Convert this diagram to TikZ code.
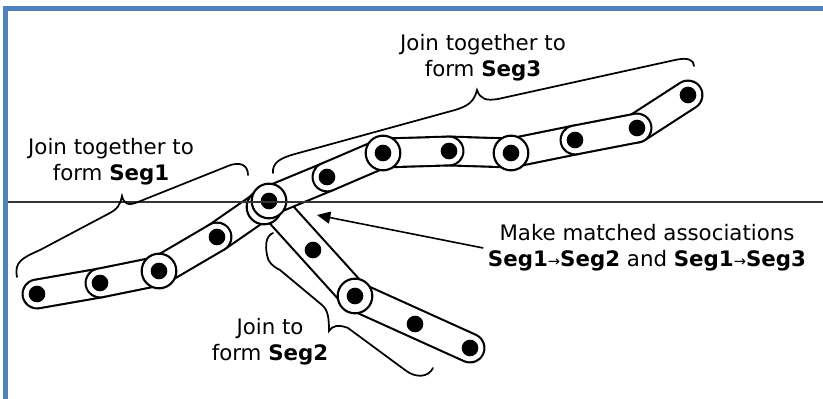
\documentclass[tikz,border=0pt]{standalone}
\usepackage{fontspec}
\setmainfont{DejaVu Sans}
\usetikzlibrary{arrows.meta}
\definecolor{framecol}{HTML}{4F81BD}
\newcommand{\segarrow}{{\fontsize{11}{13}\selectfont →}}

\begin{document}
\begin{tikzpicture}[x=0.75pt, y=-0.75pt,
    plate/.style={draw=black, line width=1.6pt, double=white, double distance=20pt, line cap=round},
    ring/.style={circle, draw, fill=white, line width=1.6pt, minimum size=26pt, inner sep=0pt},
    bolt/.style={circle, fill=black, minimum size=12.5pt, inner sep=0pt},
    brace/.style={line width=1.3pt, line cap=round},
    note/.style={align=center, font=\fontsize{16}{19.5}\selectfont},
    arrow/.style={-{Triangle[length=10pt, width=9pt]}, line width=1.2pt}
]
    \useasboundingbox (0,0) rectangle (823,399);
    \fill[framecol] (3,6) rectangle (823,11);
    \fill[framecol] (3,6) rectangle (8,399);

    % pivots of the three segments
    \coordinate (a1) at (37,294);  \coordinate (a2) at (100,283); \coordinate (a3) at (159,271);
    \coordinate (a4) at (217,237); \coordinate (a5) at (269,201);
    \coordinate (b1) at (327,177); \coordinate (b2) at (383,153); \coordinate (b3) at (449,151);
    \coordinate (b4) at (511,153); \coordinate (b5) at (575,140); \coordinate (b6) at (637,128);
    \coordinate (b7) at (688,95);
    \coordinate (c1) at (313,250); \coordinate (c2) at (355,296); \coordinate (c3) at (415,324);
    \coordinate (c4) at (470,348);

    % Seg2 lies under the others
    \draw[plate] (a5) -- (c2);
    \draw[plate] (c2) -- (c4);

    \draw[plate] (a1) -- (a2);
    \draw[plate] (a2) -- (a3);
    \draw[plate] (a4) -- (a5);
    \draw[plate] (a3) -- (a4);
    \draw[plate] (a5) -- (b1);
    \draw[plate] (b1) -- (b2);
    \draw[plate] (b3) -- (b4);
    \draw[plate] (b2) -- (b3);
    \draw[plate] (b4) -- (b5);
    \draw[plate] (b6) -- (b7);
    \draw[plate] (b5) -- (b6);

    \node[ring] (joint) at (264,207) {};
    \foreach \p in {a3,a5,b2,b4,c2}
        \node[ring] (ring-\p) at (\p) {};
    \foreach \p in {a1,a2,a3,a4,a5,b1,b2,b3,b4,b5,b6,b7,c1,c2,c3,c4}
        \node[bolt] (bolt-\p) at (\p) {};

    \draw[line width=0.8pt, black!80] (8,202) -- (823,202);

    % braces
    \draw[brace] (17,277) .. controls (14,262) and (22,258) .. (40,250) -- (108,214)
        .. controls (118,209) and (120,205) .. (122,196)
        .. controls (124,204) and (128,206) .. (138,202) -- (228,166)
        .. controls (240,161) and (248,165) .. (248,175);
    \draw[brace] (273,173) .. controls (272,163) and (280,158) .. (295,154) -- (455,110)
        .. controls (468,106) and (474,102) .. (477,90)
        .. controls (480,99) and (486,101) .. (498,99) -- (675,60)
        .. controls (688,57) and (694,60) .. (694,66);
    \draw[brace] (273,233) .. controls (266,236) and (265,245) .. (267,255)
        .. controls (268,262) and (272,266) .. (280,270) -- (322,305)
        .. controls (328,310) and (329,318) .. (329,331)
        .. controls (332,326) and (338,324) .. (348,328) -- (405,370)
        .. controls (415,378) and (428,378) .. (433,368);

    \node[note] (seg3) at (483,58)  {Join together to\\form \textbf{Seg3}};
    \node[note] (seg1) at (111,162) {Join together to\\form \textbf{Seg1}};
    \node[note] (seg2) at (270,342) {Join to\\form \textbf{Seg2}};
    \node[note] (assoc) at (647,248) {Make matched associations\\
        \textbf{Seg1}\segarrow\textbf{Seg2} and \textbf{Seg1}\segarrow\textbf{Seg3}};

    \coordinate (tip) at (317,215);
    \draw[arrow] (assoc.west) -- (tip);
\end{tikzpicture}
\end{document}
